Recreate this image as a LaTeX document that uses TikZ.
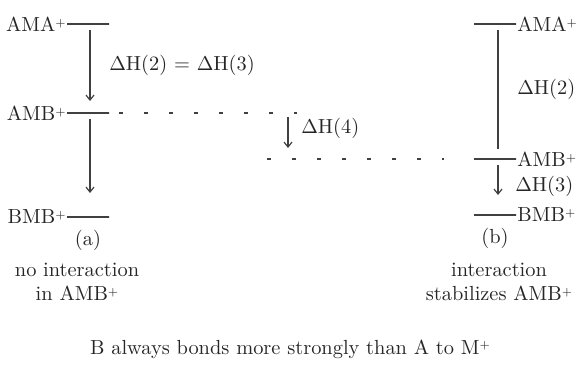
\documentclass[tikz,border=0pt]{standalone}
\usepackage{tikz}
\usetikzlibrary{arrows.meta,positioning}
\newcommand{\ionlbl}[1]{#1\raisebox{0.6ex}{\fontsize{5.5}{6}\selectfont +}}

\begin{document}
\begin{tikzpicture}[x=0.5pt,y=-0.5pt,
  every node/.style={text=black!85, font=\fontsize{10.2}{12.2}\selectfont},
  lvlbar/.style={draw=black!75, line width=0.6pt, minimum width=21pt,
                 minimum height=0pt, inner sep=0pt, outer sep=0pt},
  lvl/.style={inner sep=0.5pt},
  arr/.style={-{Straight Barb[length=2.5pt,width=4pt]}, line width=0.6pt, draw=black!75},
  vline/.style={line width=0.6pt, draw=black!75},
  dashline/.style={line width=0.6pt, draw=black!75, dash pattern=on 2pt off 10.5pt},
  note/.style={align=center, inner sep=0pt}
]
  \useasboundingbox (0,0) rectangle (582,365);

  % (a) no interaction
  \node[lvlbar] (amaL) at (88,24) {};
  \node[lvlbar] (ambL) at (88,113) {};
  \node[lvlbar] (bmbL) at (88,217) {};
  \node[lvl, left=0pt of amaL] {\ionlbl{AMA}};
  \node[lvl, left=0pt of ambL] {\ionlbl{AMB}};
  \node[lvl, left=0pt of bmbL] {\ionlbl{BMB}};
  \draw[arr] ([xshift=1pt,yshift=-3pt]amaL.south) -- ([xshift=1pt,yshift=6pt]ambL.north)
    node[midway, right=6pt] {\(\Delta\)H(2) = \(\Delta\)H(3)};
  \draw[arr] ([xshift=1pt,yshift=-3pt]ambL.south) -- ([xshift=1pt,yshift=12pt]bmbL.north);
  \node[lvl, below=6pt of bmbL] (capa) {(a)};
  \node[note] (notea) at (77,282) {no interaction\\in \ionlbl{AMB}};

  % (b) interaction
  \node[lvlbar] (amaR) at (495,24) {};
  \node[lvlbar] (ambR) at (495,159) {};
  \node[lvlbar] (bmbR) at (495,215) {};
  \node[lvl, right=0pt of amaR] {\ionlbl{AMA}};
  \node[lvl, right=0pt of ambR] {\ionlbl{AMB}};
  \node[lvl, right=0pt of bmbR] {\ionlbl{BMB}};
  \draw[vline] ([xshift=1.5pt,yshift=-3pt]amaR.south) -- ([xshift=1.5pt,yshift=5pt]ambR.north)
    node[midway, right=6pt] {\(\Delta\)H(2)};
  \draw[arr] ([xshift=1.5pt,yshift=-3pt]ambR.south) -- ([xshift=1.5pt,yshift=10pt]bmbR.north)
    node[midway, right=5pt, yshift=-3pt] {\(\Delta\)H(3)};
  \node[lvl, below=6pt of bmbR] (capb) {(b)};
  \node[note] (noteb) at (499,282) {interaction\\stabilizes \ionlbl{AMB}};

  % stabilization of AMB+
  \coordinate (upend) at (297,113);
  \coordinate (loend) at (267,159);
  \coordinate (h4top) at (288,117);
  \coordinate (h4bot) at (288,148);
  \draw[dashline] ([xshift=5pt]ambL.east) -- (upend);
  \draw[dashline] (loend) -- ([xshift=-15pt]ambR.west);
  \draw[arr] (h4top) -- (h4bot) node[midway, right=3pt, yshift=2pt] {\(\Delta\)H(4)};

  \node[note] (caption) at (290,349) {B always bonds more strongly than A to \ionlbl{M}};
\end{tikzpicture}
\end{document}
